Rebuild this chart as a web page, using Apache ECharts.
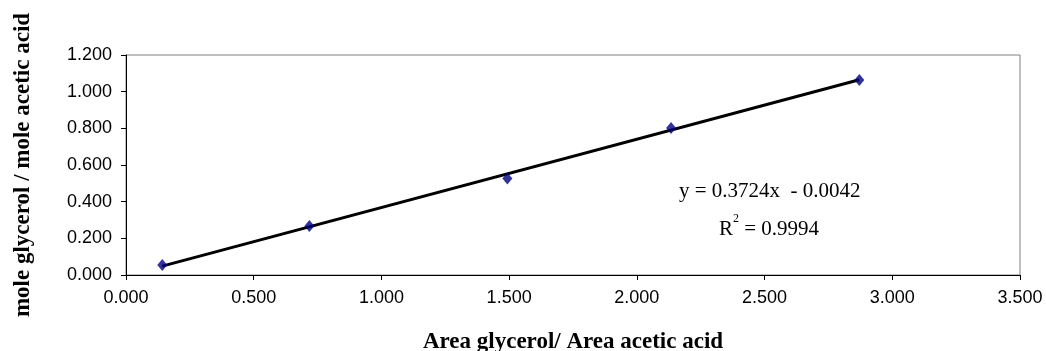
<!DOCTYPE html>
<html>
<head>
<meta charset="utf-8">
<script src="https://cdn.jsdelivr.net/npm/echarts@6/dist/echarts.min.js"></script>
<style>html,body{margin:0;padding:0;background:#fff}#c{width:1046px;height:351px}</style>
</head>
<body>
<div id="c"></div>
<script>
const xValues = [0.142, 0.718, 1.493, 2.134, 2.871];
const yValues = [0.055, 0.267, 0.527, 0.802, 1.064];
const slope = 0.3724;
const intercept = -0.0042;
const equationText = 'y = 0.3724x  - 0.0042';
const r2Text = '0.9994';
const xTitle = 'Area glycerol/ Area acetic acid';
const yTitle = 'mole glycerol / mole acetic acid';

const points = xValues.map((x, i) => [x, yValues[i]]);
const xMin = Math.min(...xValues), xMax = Math.max(...xValues);
const trend = [[xMin, slope * xMin + intercept], [xMax, slope * xMax + intercept]];

const chart = echarts.init(document.getElementById('c'), null, {renderer: 'canvas'});
const sans = 'Liberation Sans, Arial, sans-serif';
const serif = 'Liberation Serif, Times New Roman, serif';
chart.setOption({
  animation: false,
  backgroundColor: '#fff',
  grid: {left: 126, right: 26, top: 55, bottom: 76, containLabel: false, outerBoundsMode: 'none',
         show: true, borderColor: '#808080', borderWidth: 1},
  xAxis: {
    type: 'value', min: 0, max: 3.5, interval: 0.5,
    name: xTitle, nameLocation: 'middle', nameGap: 56,
    nameTextStyle: {fontFamily: serif, fontWeight: 'bold', fontSize: 23, color: '#000'},
    axisLine: {show: true, onZero: false, lineStyle: {color: '#000', width: 1}},
    axisTick: {show: true, inside: false, length: 5, lineStyle: {color: '#000'}},
    axisLabel: {formatter: v => v.toFixed(3), fontFamily: sans, fontSize: 18, color: '#000', margin: 14},
    splitLine: {show: false}
  },
  yAxis: {
    type: 'value', min: 0, max: 1.2, interval: 0.2,
    name: yTitle, nameLocation: 'middle', nameGap: 91, nameRotate: 90,
    nameTextStyle: {fontFamily: serif, fontWeight: 'bold', fontSize: 23, color: '#000'},
    axisLine: {show: true, onZero: false, lineStyle: {color: '#000', width: 1}},
    axisTick: {show: true, inside: false, length: 5, lineStyle: {color: '#000'}},
    axisLabel: {formatter: v => v.toFixed(3), fontFamily: sans, fontSize: 18, color: '#000', margin: 14},
    splitLine: {show: false}
  },
  series: [
    {
      type: 'line', data: trend, symbol: 'none', silent: true,
      lineStyle: {color: '#000', width: 3}, z: 2
    },
    {
      type: 'scatter', data: points, symbol: 'diamond', symbolSize: [10, 12],
      itemStyle: {color: '#000080'}, z: 3
    }
  ],
  graphic: [
    {
      type: 'text', left: 679, top: 181,
      style: {text: equationText, fontFamily: serif, fontSize: 21, fill: '#000'}
    },
    {
      type: 'text', left: 719, top: 213,
      style: {
        text: '{r|R}{s|2}{r| = ' + r2Text + '}',
        rich: {
          r: {fontFamily: serif, fontSize: 21, fill: '#000', verticalAlign: 'bottom', lineHeight: 27},
          s: {fontFamily: serif, fontSize: 12, fill: '#000', verticalAlign: 'top', lineHeight: 27}
        }
      }
    }
  ]
});
</script>
</body>
</html>
